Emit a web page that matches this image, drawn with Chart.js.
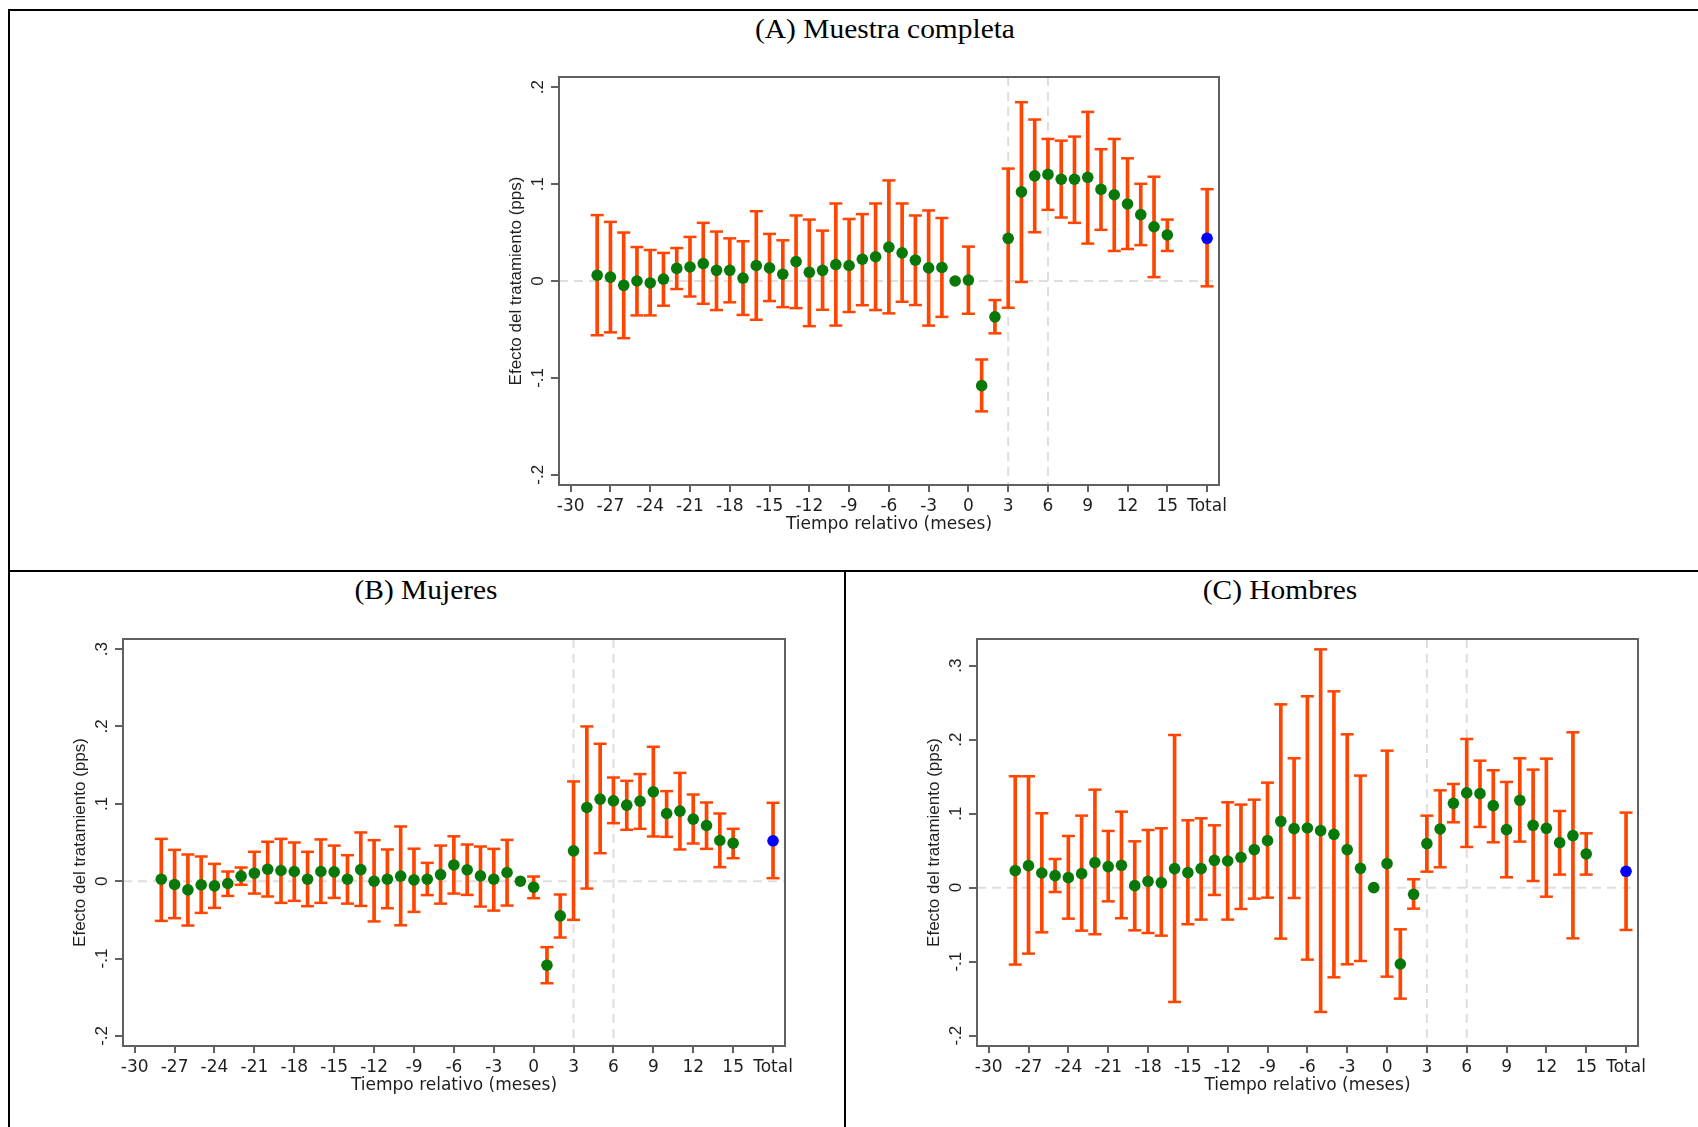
<!DOCTYPE html>
<html lang="es">
<head>
<meta charset="utf-8">
<title>Efecto del tratamiento</title>
<script src="https://cdn.jsdelivr.net/npm/chart.js@4.4.1/dist/chart.umd.min.js"></script>
<style>
body{margin:0;background:#fff;width:1698px;height:1127px;position:relative;overflow:hidden;}
.linea{position:absolute;background:#000;}
.titulo{position:absolute;font-family:"Liberation Serif","Times New Roman",serif;font-size:27px;line-height:30px;color:#000;transform:translateX(-50%) scaleX(1.09);white-space:nowrap;}
canvas{position:absolute;}
</style>
</head>
<body>
<!-- marcos de la figura -->
<div class="linea" style="left:8px;top:9px;width:1690px;height:2px"></div>
<div class="linea" style="left:8px;top:9px;width:2px;height:1118px"></div>
<div class="linea" style="left:8px;top:570px;width:1690px;height:2px"></div>
<div class="linea" style="left:844px;top:571px;width:2px;height:556px"></div>

<div class="titulo" style="left:885px;top:14px">(A) Muestra completa</div>
<div class="titulo" style="left:426px;top:575px">(B) Mujeres</div>
<div class="titulo" style="left:1280px;top:575px">(C) Hombres</div>

<canvas id="graficoA" width="759" height="503" style="left:500px;top:57px"></canvas>
<canvas id="graficoB" width="761" height="502" style="left:64px;top:619px"></canvas>
<canvas id="graficoC" width="760" height="502" style="left:918px;top:619px"></canvas>

<script>
//datos

//meses relativos (el -1 es la referencia, sin intervalo)
const meses=[-28,-27,-26,-25,-24,-23,-22,-21,-20,-19,-18,-17,-16,-15,-14,-13,-12,-11,-10,-9,-8,-7,-6,-5,-4,-3,-2,-1,0,1,2,3,4,5,6,7,8,9,10,11,12,13,14,15];
const posTotal=18;
const ticksX=[-30,-27,-24,-21,-18,-15,-12,-9,-6,-3,0,3,6,9,12,15,18];
const lineasVerticales=[3,6];

//(A) muestra completa
const coefA=[0.006,0.004,-0.0045,0,-0.002,0.002,0.013,0.0145,0.018,0.011,0.011,0.003,0.016,0.0135,0.007,0.020,0.009,0.011,0.017,0.016,0.0225,0.025,0.035,0.029,0.0215,0.0135,0.014,0,0.001,-0.108,-0.037,0.044,0.092,0.1085,0.110,0.105,0.105,0.107,0.0945,0.089,0.0795,0.0685,0.056,0.0475];
const infA=[-0.056,-0.053,-0.059,-0.0355,-0.0355,-0.0255,-0.0083,-0.016,-0.0235,-0.030,-0.022,-0.035,-0.040,-0.0207,-0.027,-0.028,-0.0466,-0.0297,-0.046,-0.032,-0.025,-0.030,-0.0334,-0.0214,-0.0248,-0.046,-0.037,null,-0.0338,-0.1345,-0.054,-0.0276,-0.001,0.0503,0.0734,0.0655,0.060,0.0386,0.0528,0.031,0.033,0.037,0.004,0.031];
const supA=[0.068,0.061,0.050,0.035,0.032,0.029,0.034,0.0455,0.060,0.051,0.044,0.041,0.072,0.0486,0.042,0.0676,0.0634,0.052,0.080,0.064,0.069,0.080,0.1038,0.080,0.0676,0.0728,0.065,null,0.0355,-0.081,-0.0197,0.116,0.1845,0.1666,0.1466,0.1448,0.149,0.1745,0.136,0.1466,0.1266,0.1003,0.1076,0.0634];
const totalA=[0.044,-0.0055,0.0948]; //coef, inf, sup
const ticksYA=[-0.2,-0.1,0,0.1,0.2];

//(B) mujeres
const coefB=[0.0026,-0.0043,-0.0112,-0.0047,-0.006,-0.003,0.0065,0.0103,0.0155,0.0138,0.0125,0.0026,0.0125,0.012,0.0026,0.015,0,0.0026,0.0065,0.0017,0.0026,0.0086,0.021,0.0147,0.0069,0.0026,0.0112,0,-0.0078,-0.1086,-0.0448,0.0392,0.0953,0.106,0.1039,0.0983,0.1034,0.1155,0.0875,0.0905,0.0802,0.072,0.0526,0.0491];
const infB=[-0.0513,-0.0478,-0.0573,-0.041,-0.0345,-0.019,-0.0047,-0.016,-0.0198,-0.028,-0.0254,-0.0323,-0.028,-0.0216,-0.029,-0.032,-0.052,-0.035,-0.057,-0.0397,-0.018,-0.029,-0.016,-0.0177,-0.0328,-0.038,-0.0315,null,-0.022,-0.1319,-0.0728,-0.05,-0.0095,0.0362,0.075,0.0664,0.0677,0.0578,0.0573,0.041,0.0487,0.0418,0.0181,0.0297];
const supB=[0.0547,0.0405,0.0345,0.0319,0.0224,0.0125,0.0177,0.038,0.051,0.0547,0.050,0.038,0.054,0.046,0.0336,0.063,0.053,0.041,0.0707,0.042,0.0237,0.046,0.058,0.0474,0.0448,0.0418,0.0534,null,0.006,-0.0853,-0.0172,0.1289,0.200,0.1776,0.134,0.1297,0.1384,0.1737,0.1164,0.140,0.112,0.1017,0.0875,0.0677];
const totalB=[0.0522,0.0039,0.1013];
const ticksYB=[-0.2,-0.1,0,0.1,0.2,0.3];

//(C) hombres
const coefC=[0.023,0.0297,0.0198,0.0162,0.0135,0.0189,0.0338,0.0284,0.0302,0.0027,0.0086,0.0068,0.0257,0.0203,0.0257,0.0369,0.036,0.041,0.0514,0.0635,0.0896,0.0797,0.0806,0.077,0.072,0.0514,0.0261,0,0.0324,-0.1032,-0.009,0.0595,0.0793,0.114,0.128,0.127,0.1108,0.0784,0.118,0.0842,0.0802,0.0608,0.0703,0.0455];
const infC=[-0.104,-0.0892,-0.0604,-0.0059,-0.0419,-0.0581,-0.063,-0.0185,-0.0414,-0.0577,-0.0613,-0.0649,-0.1545,-0.0495,-0.0432,-0.0099,-0.0432,-0.0288,-0.0149,-0.0135,-0.0689,-0.014,-0.0973,-0.168,-0.1212,-0.1036,-0.0991,null,-0.1203,-0.15,-0.0284,0.0216,0.0275,0.0883,0.055,0.082,0.0613,0.014,0.0622,0.009,-0.0122,0.0176,-0.0685,0.0176];
const supC=[0.1505,0.1505,0.1005,0.0387,0.0698,0.0973,0.1324,0.0766,0.1027,0.0626,0.0779,0.0802,0.2063,0.091,0.0937,0.0842,0.1153,0.1122,0.1189,0.1419,0.2477,0.1748,0.2586,0.322,0.2653,0.2072,0.1514,null,0.1851,-0.0563,0.0113,0.0973,0.1315,0.1401,0.2009,0.1716,0.1586,0.1428,0.1748,0.1595,0.1743,0.1036,0.2099,0.0734];
const totalC=[0.0221,-0.0572,0.1014];
const ticksYC=[-0.2,-0.1,0,0.1,0.2,0.3];

const naranja='#ff4500';
const verde='#087808';
const azul='#0000ff';
const gris='#606060';
//el eje x se ve mas ancho en la figura original, dejavu es mas ancha que arial
const fuenteX={family:"'DejaVu Sans', sans-serif",size:17};

Chart.defaults.font.family="'Liberation Sans', Arial, sans-serif";
Chart.defaults.font.size=17;
Chart.defaults.color='#1e1e1e';

//etiquetas estilo stata: .1, -.1, 0
function etiquetaY(v)
{
    if(v===0)return '0';
    return v.toFixed(1).replace('0.','.');
}

//lineas punteadas y marco del area de grafico
const pluginMarco={
    id:'marco',
    beforeDatasetsDraw(chart)
    {
        const {ctx,chartArea:a,scales:{x,y}}=chart;
        ctx.save();
        ctx.strokeStyle='#dedede';
        ctx.lineWidth=2;
        ctx.setLineDash([9,6]);
        const y0=y.getPixelForValue(0);
        ctx.beginPath();ctx.moveTo(a.left,y0);ctx.lineTo(a.right,y0);ctx.stroke();
        lineasVerticales.forEach(v=>
        {
            const px=x.getPixelForValue(v);
            ctx.beginPath();ctx.moveTo(px,a.top);ctx.lineTo(px,a.bottom);ctx.stroke();
        });
        ctx.restore();
    },
    afterDraw(chart)
    {
        const {ctx,chartArea:a}=chart;
        ctx.save();
        ctx.strokeStyle=gris;
        ctx.lineWidth=2;
        ctx.strokeRect(a.left,a.top,a.right-a.left,a.bottom-a.top);
        ctx.restore();
    }
};

function crearPanel(idCanvas,coef,inf,sup,total,yMin,yMax,ticksY)
{
    const puntos=meses.map((m,i)=>({x:m,y:coef[i]}));
    puntos.push({x:posTotal,y:total[0]});
    const colores=puntos.map(p=>p.x===posTotal?azul:verde);

    const barras=[];
    const topes=[];
    meses.forEach((m,i)=>
    {
        if(inf[i]===null)return;
        barras.push({x:m,y:[inf[i],sup[i]]});
        topes.push({x:m,y:inf[i]},{x:m,y:sup[i]});
    });
    barras.push({x:posTotal,y:[total[1],total[2]]});
    topes.push({x:posTotal,y:total[1]},{x:posTotal,y:total[2]});

    return new Chart(document.getElementById(idCanvas),{
        type:'bar',
        data:{
            datasets:[
                {type:'scatter',data:puntos,pointRadius:5.8,pointBackgroundColor:colores,pointBorderWidth:0,order:0},
                {type:'scatter',data:topes,pointStyle:'line',pointRadius:6.5,pointBorderColor:naranja,pointBorderWidth:2.5,order:1},
                {type:'bar',data:barras,backgroundColor:naranja,borderWidth:0,barThickness:3,order:2}
            ]
        },
        options:{
            responsive:false,
            animation:false,
            layout:{padding:{left:0,top:20,right:40,bottom:25}},
            plugins:{legend:{display:false},tooltip:{enabled:false}},
            scales:{
                x:{
                    type:'linear',
                    min:-30.88,
                    max:18.9,
                    offset:false,
                    afterBuildTicks:s=>{s.ticks=ticksX.map(v=>({value:v}));},
                    afterFit:s=>{s.height=50;},
                    border:{display:false},
                    grid:{drawOnChartArea:false,offset:false,color:gris,lineWidth:2,tickLength:7},
                    ticks:{autoSkip:false,maxRotation:0,padding:4,font:fuenteX,callback:v=>v===posTotal?'Total':v},
                    title:{display:true,text:'Tiempo relativo (meses)',font:fuenteX,padding:{top:0,bottom:0}}
                },
                y:{
                    type:'linear',
                    min:yMin,
                    max:yMax,
                    afterBuildTicks:s=>{s.ticks=ticksY.map(v=>({value:v}));},
                    afterFit:s=>{s.width=59;},
                    border:{display:false},
                    grid:{drawOnChartArea:false,color:gris,lineWidth:2,tickLength:8},
                    ticks:{autoSkip:false,minRotation:90,maxRotation:90,crossAlign:'center',padding:3,callback:etiquetaY},
                    title:{display:true,text:'Efecto del tratamiento (pps)',padding:{top:6.5,bottom:0}}
                }
            }
        },
        plugins:[pluginMarco]
    });
}

crearPanel('graficoA',coefA,infA,supA,totalA,-0.2105,0.2105,ticksYA);
crearPanel('graficoB',coefB,infB,supB,totalB,-0.213,0.313,ticksYB);
crearPanel('graficoC',coefC,infC,supC,totalC,-0.214,0.336,ticksYC);
</script>
</body>
</html>
